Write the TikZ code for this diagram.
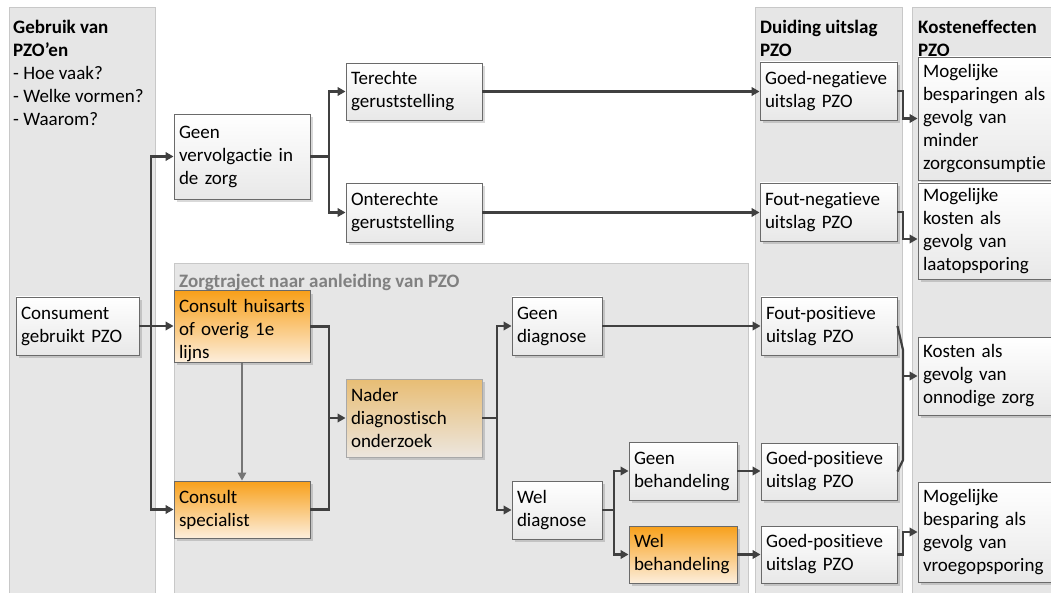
\documentclass[tikz,border=0pt]{standalone}
\usepackage{fontspec}
\setmainfont{Carlito}[Ligatures=NoCommon]
\usetikzlibrary{arrows.meta,shadows}
\definecolor{panelbg}{HTML}{E6E6E6}
\definecolor{panelline}{HTML}{C8C8C8}
\definecolor{boxline}{HTML}{6A6A6A}
\definecolor{boxbot}{HTML}{E8E8E8}
\definecolor{or1}{HTML}{F8A01A}
\definecolor{or2}{HTML}{FCEEDC}
\definecolor{tan1}{HTML}{E8BD74}
\definecolor{tan2}{HTML}{ECE6DE}
\definecolor{tanline}{HTML}{A8A8A8}
\definecolor{conn}{HTML}{404040}
\definecolor{connlight}{HTML}{767676}
\definecolor{subttl}{HTML}{808080}
\begin{document}
\begin{tikzpicture}[x=1pt,y=-1pt,
  panel/.style={fill=panelbg,draw=panelline,line width=1pt},
  bx/.style={draw=boxline,line width=0.9pt,top color=white,bottom color=boxbot,
    drop shadow={shadow xshift=3pt,shadow yshift=-3pt,fill=black,opacity=0.15},
    inner xsep=5pt,inner ysep=0pt,align=left,anchor=center,
    font=\fontsize{19pt}{23pt}\selectfont},
  orbx/.style={bx,top color=or1,bottom color=or2},
  tanbx/.style={bx,top color=tan1,bottom color=tan2,draw=tanline},
  ttl/.style={inner sep=0pt,align=left,font=\fontsize{19pt}{23pt}\selectfont},
  line/.style={draw=conn,line width=2.2pt},
  arr/.style={line,-{Triangle[length=8pt,width=8.5pt]}},
  arrthin/.style={draw=connlight,line width=1.5pt,-{Triangle[length=8pt,width=8.5pt]}}
]
\useasboundingbox[fill=white] (0,0) rectangle (1051,593);

% panels
\path[panel] (9,8) rectangle (155,600);
\path[panel] (174,264) rectangle (748,600);
\path[panel] (755,8) rectangle (902,600);
\path[panel] (912,8) rectangle (1060,600);

% titles
\node[ttl,anchor=north west] (t1) at (13,20) {\textbf{Gebruik van}\\\textbf{PZO’en}\\- Hoe vaak?\\- Welke vormen?\\- Waarom?};
\node[ttl,anchor=north west] (t2) at (760,20) {\textbf{Duiding uitslag}\\\textbf{PZO}};
\node[ttl,anchor=north west] (t3) at (918,20) {\textbf{Kosteneffecten}\\\textbf{PZO}};
\node[ttl,anchor=base west,text=subttl] (t4) at (179,288) {\textbf{Zorgtraject naar aanleiding van PZO}};

% boxes
\node[bx,minimum width=123pt,minimum height=58pt,text width=113pt] (cons) at (77.5,326) {Consument\\gebruikt PZO};
\node[bx,minimum width=136pt,minimum height=85pt,text width=126pt] (geenv) at (242,156.5) {Geen\\vervolgactie in\\de zorg};
\node[bx,minimum width=136pt,minimum height=57pt,text width=126pt] (ter) at (414,91.5) {Terechte\\geruststelling};
\node[bx,minimum width=136pt,minimum height=59pt,text width=126pt] (onter) at (414,212.5) {Onterechte\\geruststelling};
\node[orbx,minimum width=136pt,minimum height=71pt,text width=126pt] (huis) at (242,326.5) {\rule{0pt}{22pt}Consult huisarts\\of overig 1e\\lijns};
\node[orbx,minimum width=136pt,minimum height=57pt,text width=126pt] (spec) at (242,509.5) {Consult\\specialist};
\node[tanbx,minimum width=136pt,minimum height=78pt,text width=126pt] (nader) at (414,418) {Nader\\diagnostisch\\onderzoek};
\node[bx,minimum width=90pt,minimum height=58pt,text width=80pt] (gdiag) at (557,326) {Geen\\diagnose};
\node[bx,minimum width=90pt,minimum height=58pt,text width=80pt] (wdiag) at (557,510) {Wel\\diagnose};
\node[bx,minimum width=108pt,minimum height=58pt,text width=98pt] (gbeh) at (683,471) {Geen\\behandeling};
\node[orbx,minimum width=108pt,minimum height=57pt,text width=98pt] (wbeh) at (683,554.5) {Wel\\behandeling};
\node[bx,minimum width=137pt,minimum height=58pt,text width=127pt] (gneg) at (828.5,91) {Goed-negatieve\\uitslag PZO};
\node[bx,minimum width=137pt,minimum height=58pt,text width=127pt] (fneg) at (828.5,212) {Fout-negatieve\\uitslag PZO};
\node[bx,minimum width=136pt,minimum height=58pt,text width=126pt] (fpos) at (829,326) {Fout-positieve\\uitslag PZO};
\node[bx,minimum width=136pt,minimum height=57pt,text width=126pt] (gpos1) at (829,471.5) {Goed-positieve\\uitslag PZO};
\node[bx,minimum width=136pt,minimum height=57pt,text width=126pt] (gpos2) at (829,554.5) {Goed-positieve\\uitslag PZO};
\node[bx,minimum width=137pt,minimum height=123pt,text width=127pt] (k1) at (986.5,118.5) {Mogelijke\\besparingen als\\gevolg van\\minder\\zorgconsumptie};
\node[bx,minimum width=137pt,minimum height=96pt,text width=127pt] (k2) at (986.5,231) {Mogelijke\\kosten als\\gevolg van\\laatopsporing};
\node[bx,minimum width=137pt,minimum height=78pt,text width=127pt] (k3) at (986.5,376) {Kosten als\\gevolg van\\onnodige zorg};
\node[bx,minimum width=137pt,minimum height=100pt,text width=127pt] (k4) at (986.5,532) {Mogelijke\\besparing als\\gevolg van\\vroegopsporing};

% junction coordinates
\coordinate (trk) at (151,326);
\coordinate (j1) at (329,418);
\coordinate (j2) at (497,418);
\coordinate (j3) at (614,510);
\coordinate (j4) at (329,156.5);
\coordinate (j5) at (903,118.5);
\coordinate (j6) at (903,239);
\coordinate (b1) at (903,350);
\coordinate (b2) at (903,460);
\coordinate (b3) at (903,376);
\coordinate (j8) at (903,532);

% connectors
\draw[arr] (cons.east) -- (cons.east -| huis.west);
\draw[arr] (trk) |- (geenv.west);
\draw[arr] (trk) |- (spec.west);
\draw[arrthin] (huis.south) -- (spec.north);
\draw[line] (huis.east) -| (j1);
\draw[line] (spec.east) -| (j1);
\draw[arr] (j1) -- (nader.west);
\draw[line] (nader.east) -- (j2);
\draw[arr] (j2) |- (gdiag.west);
\draw[arr] (j2) |- (wdiag.west);
\draw[arr] (gdiag.east) -- (fpos.west);
\draw[line] (wdiag.east) -- (j3);
\draw[arr] (j3) |- (gbeh.west);
\draw[arr] (j3) |- (wbeh.west);
\draw[arr] (gbeh.east) -- (gbeh.east -| gpos1.west);
\draw[arr] (wbeh.east) -- (wbeh.east -| gpos2.west);
\draw[line] (geenv.east) -- (j4);
\draw[arr] (j4) |- (ter.west);
\draw[arr] (j4) |- (onter.west);
\draw[arr] (ter.east) -- (ter.east -| gneg.west);
\draw[arr] (onter.east) -- (onter.east -| fneg.west);
\draw[arr] (gneg.east) -| (j5) -- (j5 -| k1.west);
\draw[arr] (fneg.east) -| (j6) -- (j6 -| k2.west);
\draw[line,line join=round] (fpos.east) -- (b1) -- (b2) -- (gpos1.east);
\draw[arr] (b3) -- (b3 -| k3.west);
\draw[arr] (gpos2.east) -| (j8) -- (j8 -| k4.west);
\end{tikzpicture}
\end{document}
